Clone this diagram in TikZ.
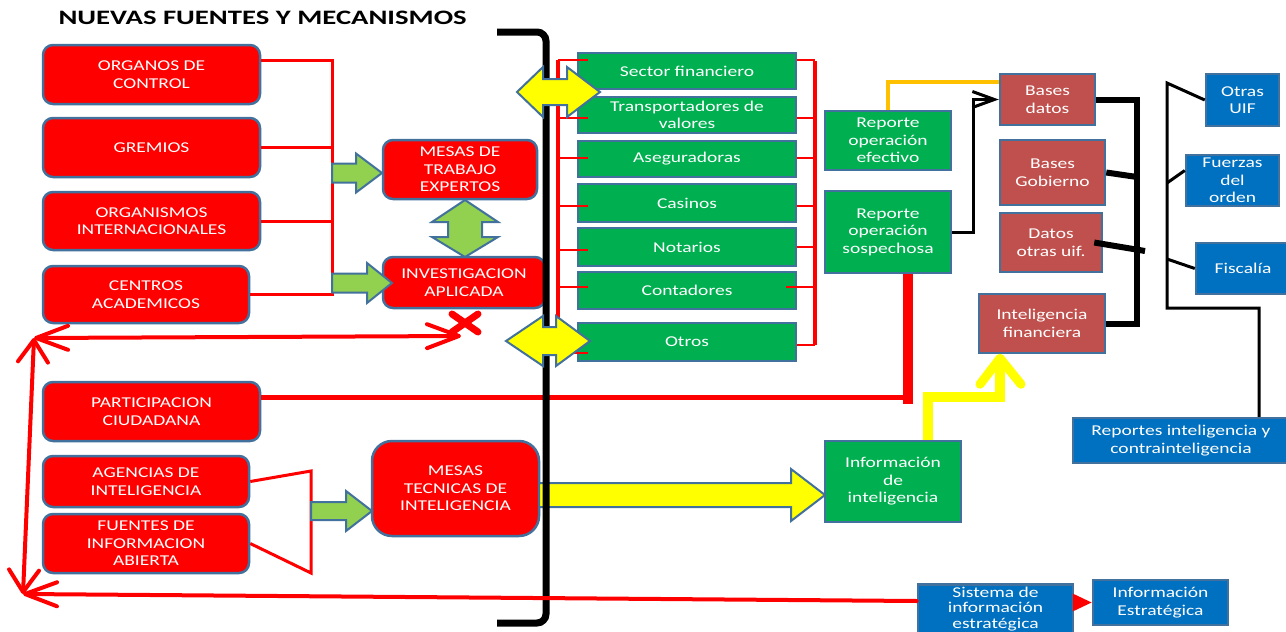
\documentclass[tikz,border=0pt]{standalone}
\usepackage{fontspec}
\setmainfont{Carlito}[FakeStretch=1.3]
\newfontfamily\ttlfont{Carlito}[FakeStretch=1.4]
\usetikzlibrary{arrows.meta,calc}
\definecolor{bred}{HTML}{FF0000}
\definecolor{bgreen}{HTML}{00B050}
\definecolor{bbrown}{HTML}{C0504D}
\definecolor{bblue}{HTML}{0070C0}
\definecolor{bord}{HTML}{41719C}
\definecolor{lgreen}{HTML}{92D050}
\definecolor{byellow}{HTML}{FFFF00}
\definecolor{ygold}{HTML}{FFC000}
\newcommand\myarrR[7]{\draw[#7] (#1,#4-#5) -- (#2,#4-#5) -- (#2,#4-#6) -- (#3,#4) -- (#2,#4+#6) -- (#2,#4+#5) -- (#1,#4+#5) -- cycle;}
\newcommand\mydblH[8]{\draw[#8] (#1,#5) -- (#2,#5-#7) -- (#2,#5-#6) -- (#3,#5-#6) -- (#3,#5-#7) -- (#4,#5) -- (#3,#5+#7) -- (#3,#5+#6) -- (#2,#5+#6) -- (#2,#5+#7) -- cycle;}
\tikzset{
  hbarb/.tip={Straight Barb[length=32pt,width=24pt,round]},
  vbarb/.tip={Straight Barb[length=22pt,width=30pt,round]},
  kbarb/.tip={Straight Barb[length=22pt,width=16pt]},
}
\begin{document}
\begin{tikzpicture}[x=1pt,y=-1pt,
  box/.style={draw=bord, line width=2.5pt, text=white, align=center, inner sep=0pt, font=\fontsize{15}{17.5}\selectfont},
  rbox/.style={box, fill=bred, rounded corners=10pt},
  gbox/.style={box, fill=bgreen},
  kbox/.style={box, fill=bbrown},
  bbox/.style={box, fill=bblue},
  rline/.style={draw=bred, line width=3pt},
  rthin/.style={draw=bred, line width=1.5pt},
  rbus/.style={draw=bred, line width=4pt},
  garr/.style={fill=lgreen, draw=bord, line width=2pt},
  yarr/.style={fill=byellow, draw=bord, line width=2pt},
  rarr/.style={draw=bred, line width=4pt, line cap=round},
]
\useasboundingbox (0,0) rectangle (1286,632);
\clip (0,0) rectangle (1286,632);
\fill[white] (0,0) rectangle (1286,632);

\node[anchor=west, font=\ttlfont\bfseries\fontsize{20.5}{24}\selectfont] (title) at (55,18) {NUEVAS FUENTES Y MECANISMOS};

% left column
\node[rbox, minimum width=217pt, minimum height=59pt] (org) at (151.5,74.5) {ORGANOS DE\\CONTROL};
\node[rbox, minimum width=217pt, minimum height=59pt] (grem) at (151.5,147.5) {GREMIOS};
\node[rbox, minimum width=217pt, minimum height=58pt] (orgi) at (151.5,221) {ORGANISMOS\\INTERNACIONALES};
\node[rbox, minimum width=206pt, minimum height=57pt] (cent) at (146,294.5) {CENTROS\\ACADEMICOS};
\node[rbox, minimum width=154pt, minimum height=59pt] (mte) at (460,169.5) {MESAS DE\\TRABAJO\\EXPERTOS};
\node[rbox, minimum width=162pt, minimum height=51pt] (inv) at (464,282.5) {INVESTIGACION\\APLICADA};
\node[rbox, minimum width=217pt, minimum height=59pt] (part) at (151.5,411.5) {PARTICIPACION\\CIUDADANA};
\node[rbox, minimum width=206pt, minimum height=51pt] (agen) at (146,481.5) {AGENCIAS DE\\INTELIGENCIA};
\node[rbox, minimum width=206pt, minimum height=59pt] (fuen) at (146,543.5) {FUENTES DE\\INFORMACION\\ABIERTA};
\node[rbox, rounded corners=20pt, minimum width=167pt, minimum height=95pt] (mtec) at (455.5,488.5) {MESAS\\TECNICAS DE\\INTELIGENCIA};

\coordinate (b1) at (332,60);
\coordinate (b2) at (332,294.5);
\draw[rline] ([yshift=14.5pt]org.east) -- (b1) -- (b2) -- (cent.east);
\draw[rline] (grem.east) -- (grem.east -| b1);
\draw[rline] (orgi.east) -- (orgi.east -| b1);
\draw[rline] (agen.east) -- (311,471) -- (311,573) -- (fuen.east);

\myarrR{332}{356}{382}{173}{9.5}{19.5}{garr}
\myarrR{332}{367}{392}{283}{9.5}{20}{garr}
\myarrR{311}{346}{372}{511}{9}{20}{garr}
\draw[garr] (465,200) -- (498,222) -- (482,222) -- (482,237) -- (498,237) -- (465,257) -- (432,237) -- (448,237) -- (448,222) -- (432,222) -- cycle;

% green column
\node[gbox, minimum width=218pt, minimum height=36pt] (sec) at (687,71) {Sector financiero};
\node[gbox, minimum width=218pt, minimum height=36pt] (tra) at (687,115) {Transportadores de\\valores};
\node[gbox, minimum width=218pt, minimum height=36pt] (ase) at (687,159) {Aseguradoras};
\node[gbox, minimum width=218pt, minimum height=38pt] (cas) at (687,203) {Casinos};
\node[gbox, minimum width=218pt, minimum height=38pt] (nota) at (687,247) {Notarios};
\node[gbox, minimum width=218pt, minimum height=37pt] (cont) at (687,290.5) {Contadores};
\node[gbox, minimum width=218pt, minimum height=38pt] (otr) at (687,342) {Otros};

% right side nodes
\node[gbox, minimum width=126pt, minimum height=59pt] (ref) at (888,140.5) {Reporte\\operación\\efectivo};
\node[gbox, minimum width=126pt, minimum height=82pt] (ros) at (888,232) {Reporte\\operación\\sospechosa};
\node[kbox, minimum width=95pt, minimum height=51pt] (bd) at (1047.5,99.5) {Bases\\datos};
\node[kbox, minimum width=105pt, minimum height=65pt] (bg) at (1052.5,172.5) {Bases\\Gobierno};
\node[kbox, minimum width=102pt, minimum height=59pt] (dou) at (1051,242.5) {Datos\\otras uif.};
\node[kbox, minimum width=126pt, minimum height=59pt] (inf) at (1042,323.5) {Inteligencia\\financiera};
\node[bbox, minimum width=73pt, minimum height=52pt] (uif) at (1242.5,100) {Otras\\UIF};
\node[bbox, minimum width=93pt, minimum height=51pt] (fza) at (1232.5,180.5) {Fuerzas\\del\\orden};
\node[bbox, minimum width=94pt, minimum height=51pt] (fis) at (1243,268.5) {Fiscalía};
\node[bbox, minimum width=216pt, minimum height=45pt] (rep) at (1181,440.5) {Reportes inteligencia y\\contrainteligencia};
\node[gbox, minimum width=136pt, minimum height=81pt] (iint) at (893,481.5) {Información\\de\\inteligencia};
\node[bbox, minimum width=155pt, minimum height=49pt, font=\fontsize{15}{15.5}\selectfont] (sis) at (995.5,609) {Sistema de\\información\\estratégica};
\node[bbox, minimum width=135pt, minimum height=45pt] (ie) at (1160.5,602.5) {Información\\Estratégica};

% big yellow arrow
\myarrR{539}{791}{825}{495}{12}{26}{yarr}

% red line from participacion
\draw[draw=bred, line width=5pt] ([yshift=14.5pt]part.east) -- (908,397);
\draw[draw=bred, line width=10pt] ([xshift=20pt]ros.south) -- ([xshift=20pt]ros.south |- 0,404);

% black bracket
\draw[line width=7pt, rounded corners=9pt] (497,32) -- (546,32) -- (546,623) -- (497,623);

% red buses
\draw[rbus] (558,60) -- (558,353);
\draw[rbus] (815,61) -- (815,345);
\foreach \n/\y in {sec/60,tra/118,ase/158,cas/206,nota/250,cont/287,otr/353}
  \draw[rthin] (558,\y) -- (\n.west |- 0,\y) -- ++(11,0);
\foreach \n/\y in {sec/60,tra/118,ase/158,cas/206,nota/247,otr/345}
  \draw[rthin] (\n.east |- 0,\y) -- (815,\y);
\draw[rthin] (cont.east |- 0,287) ++(-11,0) -- (815,287);

% yellow double arrows
\mydblH{517}{543}{567}{600}{92}{13}{25}{yarr}
\mydblH{506}{543}{556}{590}{341}{14}{25}{yarr}

% right connectors
\draw[draw=ygold, line width=3.5pt] (ref.north) |- ([yshift=17.5pt]bd.west);
\draw[line width=3pt, -kbarb] (ros.east) -| ($(bd.west)+(-25,0)$) -- (bd.west);
\coordinate (kb) at (1137,200);
\draw[line width=6pt] (bd.east) -| (kb) |- (inf.east);
\draw[line width=6pt] (bg.east) -- (1137,177);
\draw[line width=6pt] ([xshift=-9pt]dou.east) -- (1145,251);
\draw[line width=3pt] (uif.west) -- (1167,83) -- (1167,308) -| ([xshift=78pt]rep.north);
\draw[line width=3pt] (1167,183) -- ([yshift=10pt]fza.west);
\draw[line width=3pt] (1167,259) -- (fis.west);

% yellow path to inteligencia financiera
\coordinate (ytip) at ($(inf.south)+(-42,4)$);
\draw[draw=byellow, line width=10pt] ([xshift=35pt]iint.north) |- (ytip |- 0,397) -- (ytip);
\draw[draw=byellow, line width=9pt, line cap=round, line join=round] ($(ytip)+(-20,26)$) -- (ytip) -- ($(ytip)+(21,26)$);

% red arrows
\coordinate (cA) at (34,338);
\coordinate (cB) at (461,336);
\coordinate (cC) at (23,594);
\draw[rarr, hbarb-hbarb] (cA) -- (cB);
\draw[rarr, vbarb-vbarb] (cA) -- (cC);
\draw[rarr, -hbarb] ([yshift=8pt]sis.west) -- (cC);
\draw[draw=bred, line width=7pt, line cap=round] (452,314) -- (478,332) (478,314) -- (452,332);
\draw[draw=bred, line width=3pt, -{Triangle[length=19pt,width=17pt]}] (sis.east |- ie.west) -- (ie.west);
\end{tikzpicture}
\end{document}
